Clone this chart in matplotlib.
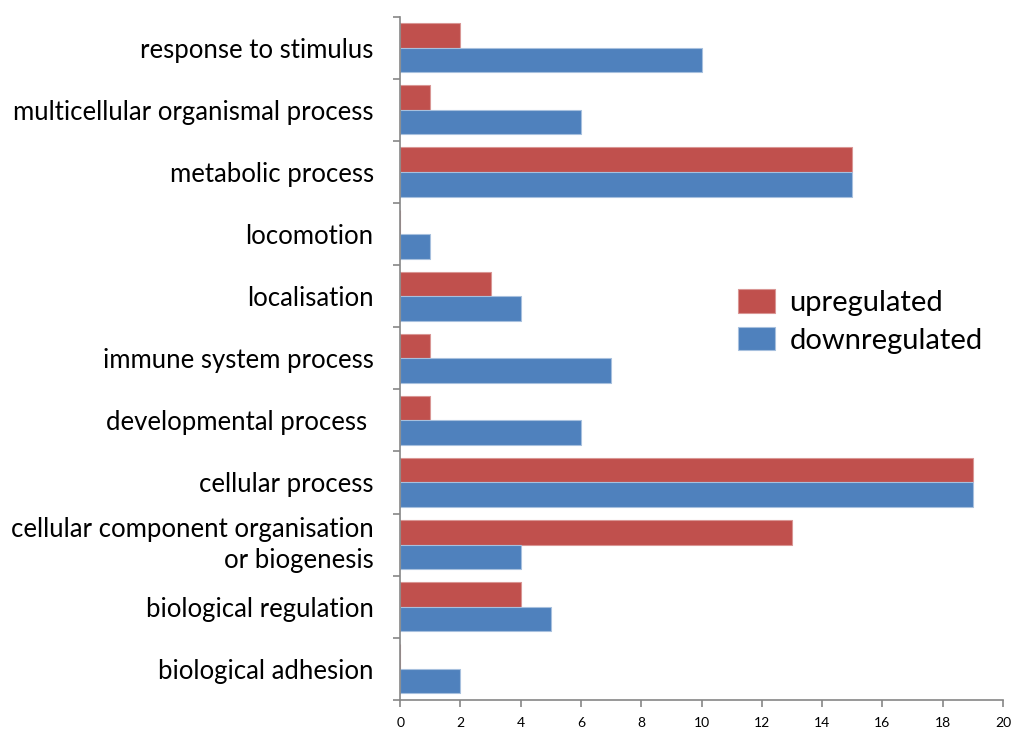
import numpy as np
import matplotlib.pyplot as plt
from matplotlib.ticker import FixedLocator

categories = ["biological adhesion", "biological regulation",
              "cellular component organisation\nor biogenesis", "cellular process",
              "developmental process ", "immune system process", "localisation",
              "locomotion", "metabolic process", "multicellular organismal process",
              "response to stimulus"]
upregulated = [0, 4, 13, 19, 1, 1, 3, 0, 15, 1, 2]
downregulated = [2, 5, 4, 19, 6, 7, 4, 1, 15, 6, 10]

plt.rcParams['font.family'] = ['Lato', 'DejaVu Sans']

fig = plt.figure(figsize=(10.13, 7.29), dpi=100)
ax = fig.add_axes([0.395, 0.040, 0.595, 0.937])

y = np.arange(len(categories))
h = 0.395
ax.barh(y + h / 2, upregulated, height=h, color='#C0504D', edgecolor='#D99694',
        linewidth=0.8, label='upregulated')
ax.barh(y - h / 2, downregulated, height=h, color='#4F81BD', edgecolor='#A7C0DE',
        linewidth=0.8, label='downregulated')

ax.set_xlim(0, 20)
ax.set_ylim(-0.5, len(categories) - 0.5)
ax.set_xticks(range(0, 21, 2))
ax.set_yticks(y)
ax.set_yticklabels(categories, fontsize=18.5, ha='right', linespacing=1.3)
# two-line label: centre the whole block on the tick
for lbl in ax.get_yticklabels():
    if '\n' in lbl.get_text():
        lbl.set_va('center')
ax.yaxis.set_minor_locator(FixedLocator(np.arange(-0.5, len(categories), 1)))
ax.tick_params(axis='y', which='major', length=0, pad=19)
ax.tick_params(axis='y', which='minor', length=5, color='#868686', width=1.2)
ax.tick_params(axis='x', length=5, color='#868686', width=1.2, labelsize=10, pad=7)

for s in ['top', 'right']:
    ax.spines[s].set_visible(False)
for s in ['left', 'bottom']:
    ax.spines[s].set_color('#868686')
    ax.spines[s].set_linewidth(1.2)

ax.legend(loc='upper left', bbox_to_anchor=(0.56, 0.601), frameon=False,
          fontsize=21, handlelength=1.27, handleheight=0.85, handletextpad=0.5,
          labelspacing=0.37, borderpad=0, borderaxespad=0)

plt.savefig('out.png', dpi=100)
